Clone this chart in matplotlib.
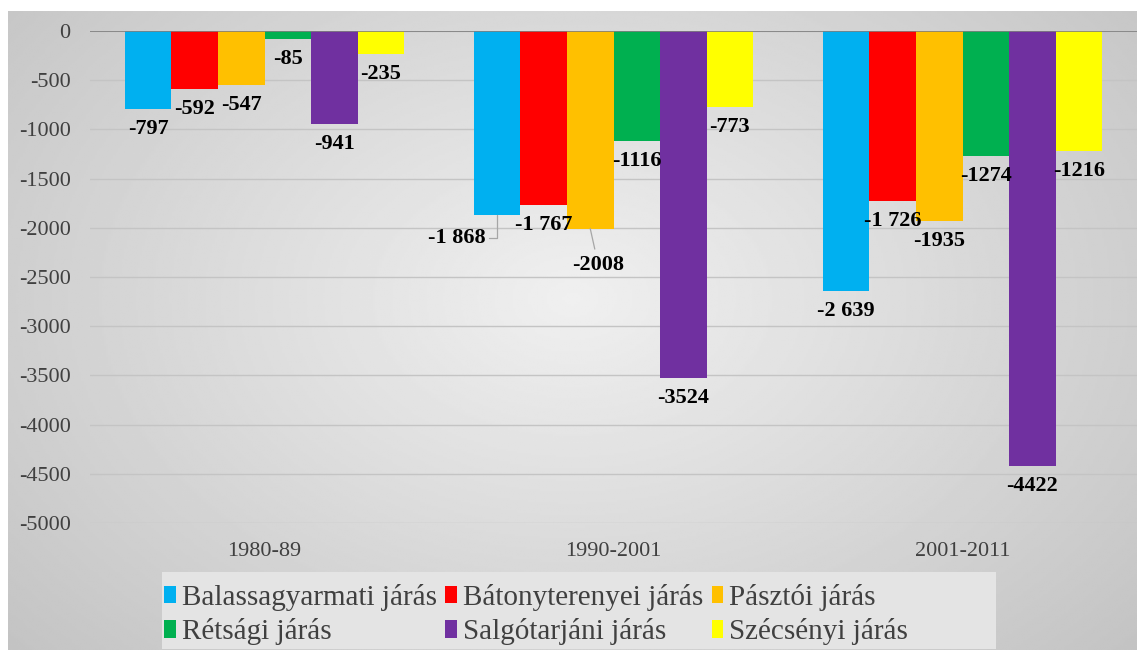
import matplotlib.pyplot as plt
import numpy as np
from matplotlib.patches import Patch, Rectangle

# data
periods = ['1980-89', '1990-2001', '2001-2011']
districts = ['Balassagyarmati járás', 'Bátonyterenyei járás', 'Pásztói járás',
             'Rétsági járás', 'Salgótarjáni járás', 'Szécsényi járás']
balassagyarmati = [-797, -1868, -2639]
batonyterenyei = [-592, -1767, -1726]
pasztoi = [-547, -2008, -1935]
retsagi = [-85, -1116, -1274]
salgotarjani = [-941, -3524, -4422]
szecsenyi = [-235, -773, -1216]
label_text = [
    ['-797', '-1 868', '-2 639'],
    ['-592', '-1 767', '-1 726'],
    ['-547', '-2008', '-1935'],
    ['-85', '-1116', '-1274'],
    ['-941', '-3524', '-4422'],
    ['-235', '-773', '-1216'],
]
colors = ['#00B0F0', '#FF0000', '#FFC000', '#00B050', '#7030A0', '#FFFF00']

series = [balassagyarmati, batonyterenyei, pasztoi, retsagi, salgotarjani, szecsenyi]

plt.rcParams['font.family'] = ['Liberation Serif', 'DejaVu Serif']
plt.rcParams['axes.unicode_minus'] = False

W, H = 1137, 650
fig = plt.figure(figsize=(W / 100, H / 100), dpi=100)
fig.patch.set_facecolor('white')

# radial grey background
bg = fig.add_axes([8 / W, 0, 1 - 8 / W, 1 - 11 / H])
yy, xx = np.mgrid[0:1:300j, 0:1:500j]
r = np.sqrt(((xx - 0.5) / 0.62) ** 2 + ((yy - 0.45) / 0.75) ** 2)
grad = 0.94 - 0.16 * np.clip(r, 0, 1.2)
bg.imshow(grad, cmap='gray', vmin=0, vmax=1, aspect='auto', extent=[0, 1, 0, 1])
bg.set_axis_off()

ax = fig.add_axes([90 / W, 127 / H, 1047 / W, 492 / H])
ax.set_facecolor('none')

x = np.arange(len(periods))
n = len(series)
width = 0.8 / n

# manual label offsets (pixels) for labels moved in the original
special = {(0, 1): (-40, -23), (2, 1): (8, -36)}

for i, vals in enumerate(series):
    pos = x + (i - (n - 1) / 2) * width
    ax.bar(pos, vals, width, color=colors[i], zorder=3)
    for j, v in enumerate(vals):
        off = special.get((i, j), (0, -20))
        if (i, j) == (0, 1):
            ax.annotate(label_text[i][j], xy=(pos[j], v), xytext=off,
                        textcoords='offset pixels', ha='center', va='center',
                        fontsize=16, fontweight='bold', zorder=5,
                        arrowprops=dict(arrowstyle='-', color='#a6a6a6', lw=0.9,
                                        shrinkA=0, shrinkB=0,
                                        connectionstyle='angle,angleA=0,angleB=90,rad=0'))
        elif (i, j) == (2, 1):
            ax.annotate(label_text[i][j], xy=(pos[j], v), xytext=off,
                        textcoords='offset pixels', ha='center', va='center',
                        fontsize=16, fontweight='bold', zorder=5,
                        arrowprops=dict(arrowstyle='-', color='#a6a6a6', lw=0.9,
                                        shrinkA=2, shrinkB=0))
        else:
            ax.annotate(label_text[i][j], xy=(pos[j], v), xytext=off,
                        textcoords='offset pixels', ha='center', va='center',
                        fontsize=16, fontweight='bold', zorder=5)

ax.set_xlim(-0.5, 2.5)
ax.set_ylim(-5000, 0)
ax.set_yticks(np.arange(-5000, 1, 500))
ax.set_xticks(x)
ax.set_xticklabels(periods)
ax.yaxis.grid(True, color='#c4c4c4', lw=1, zorder=0)
ax.axhline(0, color='#7f7f7f', lw=1.2, zorder=4)
for s in ax.spines.values():
    s.set_visible(False)
ax.tick_params(axis='both', length=0, labelsize=16, labelcolor='#404040')
ax.tick_params(axis='y', pad=14)
ax.tick_params(axis='x', pad=14)

# legend box (Excel style, fixed-width columns)
fig.patches.append(Rectangle((162 / W, 1 - 649 / H), 834 / W, 77 / H,
                             transform=fig.transFigure, facecolor='#e4e4e4',
                             edgecolor='none', zorder=1))

handles = [Patch(facecolor=c, edgecolor='none') for c in colors]
order = [0, 3, 1, 4, 2, 5]
leg = fig.legend([handles[k] for k in order], [districts[k] for k in order],
                 ncol=3, loc='upper left', bbox_to_anchor=(164 / W, 1 - 584 / H),
                 prop={'family': 'Liberation Serif', 'size': 21},
                 frameon=False, handlelength=0.4,
                 handleheight=0.55, handletextpad=0.2, columnspacing=0.3,
                 labelspacing=0.25, borderpad=0.0, borderaxespad=0)
for t in leg.get_texts():
    t.set_color('#404040')

fig.savefig('out.png', dpi=100)
